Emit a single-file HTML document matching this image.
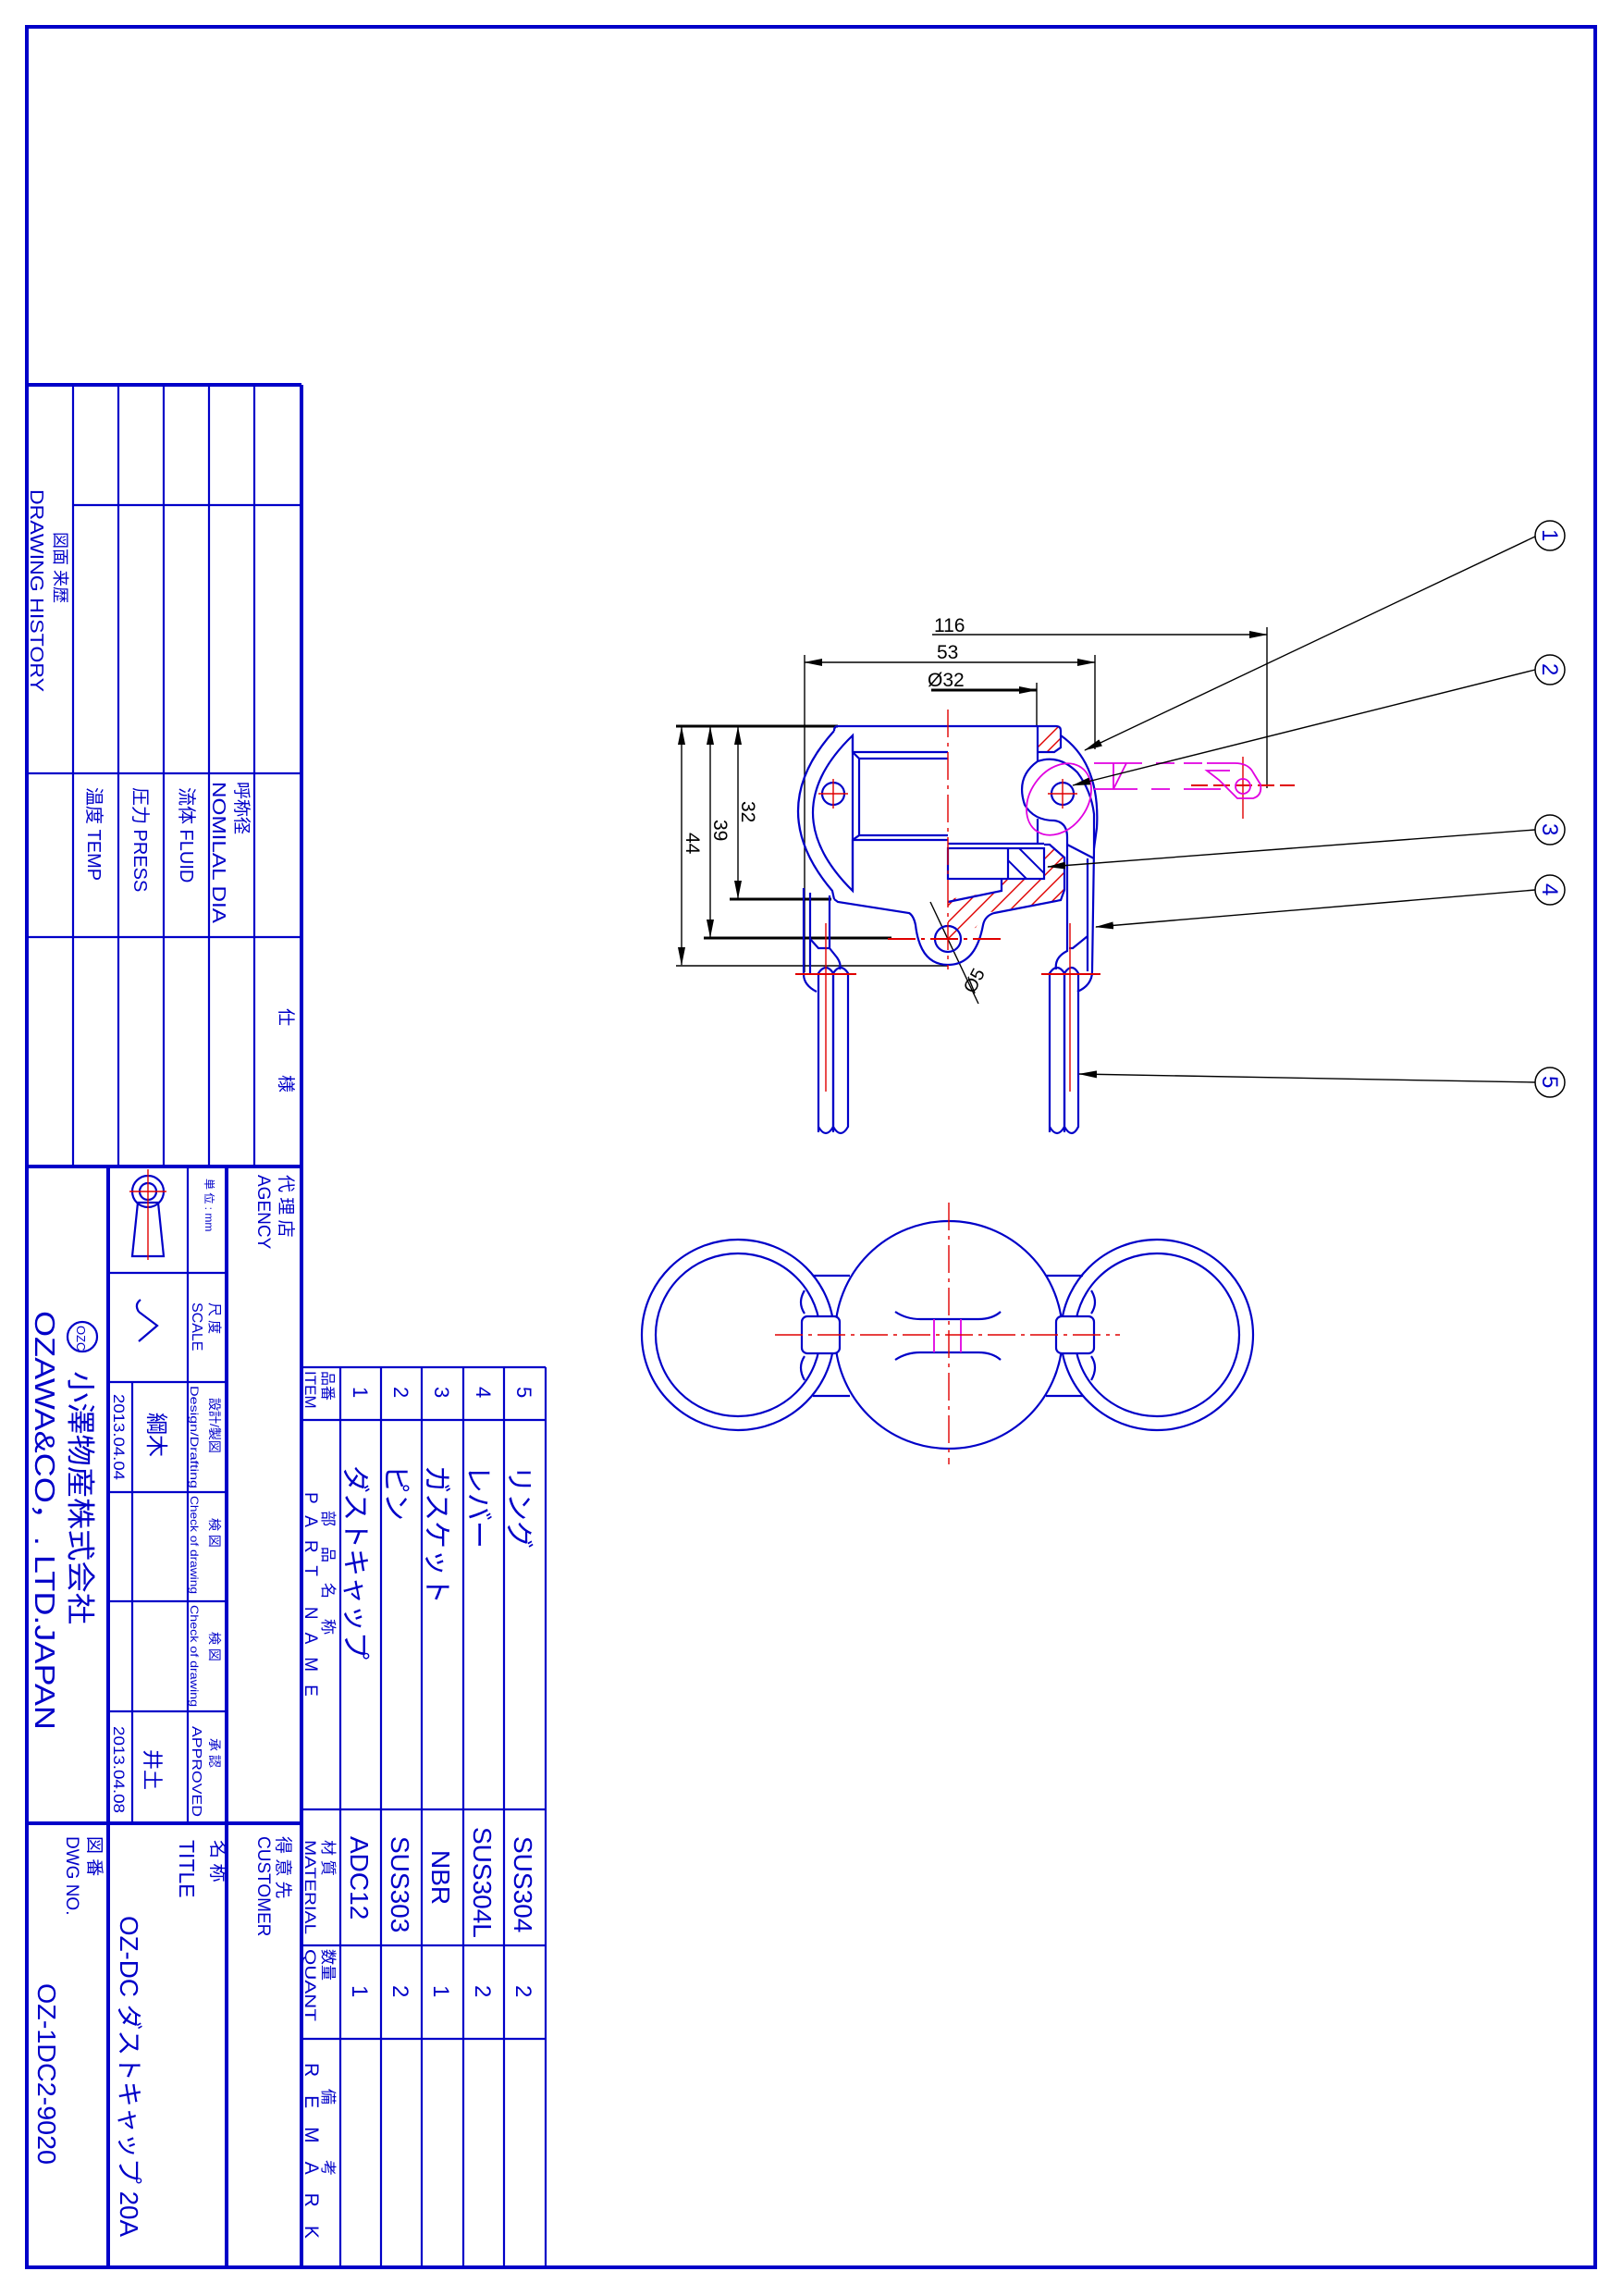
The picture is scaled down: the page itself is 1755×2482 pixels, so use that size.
<!DOCTYPE html>
<html><head><meta charset="utf-8"><style>
html,body{margin:0;padding:0;background:#fff}
svg{display:block}
text{font-family:"Liberation Sans","Noto Sans CJK JP",sans-serif;fill:#0000c8}
.b{stroke:#0000c8;fill:none;stroke-width:2.2}
.bt{stroke:#0000c8;fill:none;stroke-width:4}
.k{stroke:#000;fill:none;stroke-width:1.4}
.kt{stroke:#000;fill:none;stroke-width:3}
.r{stroke:#e00000;fill:none;stroke-width:1.4}
.rd{stroke:#e00000;fill:none;stroke-width:2.2;stroke-dasharray:22 6 4 6}
.m{stroke:#e000e0;fill:none;stroke-width:1.8}
.kx text,.dim{fill:#000}
</style></head><body>
<svg width="1755" height="2482" viewBox="0 0 1755 2482" xmlns="http://www.w3.org/2000/svg">
<defs>
<marker id="ar" markerWidth="20" markerHeight="8" refX="19" refY="4" orient="auto" markerUnits="userSpaceOnUse"><path d="M0,0 L20,4 L0,8 z" fill="#000"/></marker>
<marker id="al" markerWidth="20" markerHeight="8" refX="1" refY="4" orient="auto" markerUnits="userSpaceOnUse"><path d="M20,0 L0,4 L20,8 z" fill="#000"/></marker>
<clipPath id="hc"><path d="M1025,972 L1083,963 L1083,950 L1129,950 L1129,917 L1135,913 L1151,927 L1151,962 L1147,973 L1065,987 L1055,1003 L1040,1005 L1025,1025 Z"/></clipPath>
<clipPath id="hc2"><rect x="1122" y="786" width="25" height="27"/></clipPath>
<clipPath id="gc"><rect x="1090" y="917" width="39" height="33"/></clipPath>
</defs>

<!-- outer border -->
<rect x="29" y="29" width="1696" height="2422" class="bt"/>

<!-- ============ TITLE BLOCK UPPER ============ -->
<g class="b">
<line x1="29" y1="416" x2="326" y2="416" class="bt"/>
<line x1="326" y1="416" x2="326" y2="1478" class="bt"/>
<line x1="79" y1="416" x2="79" y2="1262"/>
<line x1="128" y1="416" x2="128" y2="1262"/>
<line x1="177" y1="416" x2="177" y2="1262"/>
<line x1="226" y1="416" x2="226" y2="1262"/>
<line x1="275" y1="416" x2="275" y2="1262"/>
<line x1="79" y1="546" x2="326" y2="546"/>
<line x1="29" y1="836" x2="326" y2="836"/>
<line x1="29" y1="1013" x2="326" y2="1013"/>
<line x1="29" y1="1261" x2="326" y2="1261" class="bt"/>
<!-- lower -->
<line x1="117" y1="1261" x2="117" y2="2451" class="bt"/>
<line x1="245" y1="1261" x2="245" y2="2451" class="bt"/>
<line x1="203" y1="1261" x2="203" y2="1971"/>
<line x1="143" y1="1494" x2="143" y2="1971"/>
<line x1="117" y1="1376" x2="245" y2="1376"/>
<line x1="117" y1="1494" x2="245" y2="1494"/>
<line x1="117" y1="1613" x2="245" y2="1613"/>
<line x1="117" y1="1731" x2="245" y2="1731"/>
<line x1="117" y1="1850" x2="245" y2="1850"/>
<line x1="29" y1="1971" x2="326" y2="1971" class="bt"/>
<line x1="326" y1="1478" x2="326" y2="2451" class="bt"/>
<!-- parts table -->
<line x1="326" y1="1478" x2="590" y2="1478"/>
<line x1="590" y1="1478" x2="590" y2="2451"/>
<line x1="368" y1="1478" x2="368" y2="2451"/>
<line x1="412" y1="1478" x2="412" y2="2451"/>
<line x1="456" y1="1478" x2="456" y2="2451"/>
<line x1="501" y1="1478" x2="501" y2="2451"/>
<line x1="545" y1="1478" x2="545" y2="2451"/>
<line x1="326" y1="1535" x2="590" y2="1535"/>
<line x1="326" y1="1956" x2="590" y2="1956"/>
<line x1="326" y1="2103" x2="590" y2="2103"/>
<line x1="326" y1="2204" x2="590" y2="2204"/>
</g>

<!-- symbols -->
<circle cx="160" cy="1288" r="17" class="b"/>
<circle cx="160" cy="1288" r="9" class="b"/>
<path d="M143,1358 L177,1358 L171,1300 L149,1300 Z" class="b"/>
<line x1="160" y1="1264" x2="160" y2="1362" class="r"/>
<line x1="140" y1="1288" x2="180" y2="1288" class="r"/>
<path d="M150,1418 L170,1433 L150,1450" class="b" stroke-width="2"/>
<path d="M150,1418 Q145,1410 152,1405" class="b" stroke-width="0"/>
<!-- logo -->
<circle cx="89" cy="1445" r="16" class="b" stroke-width="4"/>
<text font-size="13" transform="translate(83,1433) rotate(90)">OZC</text>

<!-- upper title texts -->
<g>
<text font-size="20" transform="translate(33,529) rotate(90)" textLength="219" lengthAdjust="spacingAndGlyphs">DRAWING HISTORY</text>
<text font-size="18" transform="translate(59,575) rotate(90)">図面 来歴</text>
<text font-size="20" transform="translate(95,851) rotate(90)">温度 TEMP</text>
<text font-size="20" transform="translate(145,851) rotate(90)">圧力 PRESS</text>
<text font-size="20" transform="translate(195,851) rotate(90)">流体 FLUID</text>
<text font-size="20" transform="translate(230,845) rotate(90)" textLength="153" lengthAdjust="spacingAndGlyphs">NOMILAL DIA</text>
<text font-size="19" transform="translate(255,845) rotate(90)">呼称径</text>
<text font-size="19" transform="translate(303,1090) rotate(90)">仕</text>
<text font-size="19" transform="translate(303,1162) rotate(90)">様</text>

<text font-size="19" transform="translate(303,1270) rotate(90)">代 理 店</text>
<text font-size="19" transform="translate(279,1270) rotate(90)">AGENCY</text>
<text font-size="12" transform="translate(222,1274) rotate(90)">単 位 : mm</text>
<text font-size="15" transform="translate(227,1408) rotate(90)">尺 度</text>
<text font-size="16" transform="translate(208,1408) rotate(90)">SCALE</text>
<text font-size="14" transform="translate(227,1511) rotate(90)">設計/製図</text>
<text font-size="12" transform="translate(206,1498) rotate(90)" textLength="111" lengthAdjust="spacingAndGlyphs">Design/Drafting</text>
<text font-size="14" transform="translate(227,1641) rotate(90)">検 図</text>
<text font-size="12" transform="translate(206,1617) rotate(90)" textLength="106" lengthAdjust="spacingAndGlyphs">Check of drawing</text>
<text font-size="14" transform="translate(227,1764) rotate(90)">検 図</text>
<text font-size="12" transform="translate(206,1735) rotate(90)" textLength="110" lengthAdjust="spacingAndGlyphs">Check of drawing</text>
<text font-size="14" transform="translate(227,1879) rotate(90)">承 認</text>
<text font-size="15" transform="translate(208,1866) rotate(90)" textLength="98" lengthAdjust="spacingAndGlyphs">APPROVED</text>
<text font-size="24" transform="translate(161,1527) rotate(90)">綱木</text>
<text font-size="22" transform="translate(157,1891) rotate(90)">井土</text>
<text font-size="17" transform="translate(123,1507) rotate(90)" textLength="93" lengthAdjust="spacingAndGlyphs">2013.04.04</text>
<text font-size="17" transform="translate(123,1866) rotate(90)" textLength="94" lengthAdjust="spacingAndGlyphs">2013.04.08</text>
<text font-size="31" transform="translate(76,1482) rotate(90)" textLength="274" lengthAdjust="spacingAndGlyphs">小澤物産株式会社</text>
<text font-size="31" transform="translate(38,1417) rotate(90)" textLength="453" lengthAdjust="spacingAndGlyphs">OZAWA&amp;CO，. LTD.JAPAN</text>
<text font-size="19" transform="translate(96,1985) rotate(90)">図 番</text>
<text font-size="19" transform="translate(72,1985) rotate(90)">DWG NO.</text>
<text font-size="28" transform="translate(41,2144) rotate(90)" textLength="196" lengthAdjust="spacingAndGlyphs">OZ-1DC2-9020</text>
<text font-size="20" transform="translate(229,1989) rotate(90)">名 称</text>
<text font-size="23" transform="translate(194,1989) rotate(90)">TITLE</text>
<text font-size="28" transform="translate(130,2071) rotate(90)" textLength="347" lengthAdjust="spacingAndGlyphs">OZ-DC ダストキャップ 20A</text>
<text font-size="19" transform="translate(300,1985) rotate(90)">得 意 先</text>
<text font-size="19" transform="translate(279,1985) rotate(90)">CUSTOMER</text>

<!-- parts table text -->
<text font-size="16" transform="translate(349,1482) rotate(90)">品番</text>
<text font-size="17" transform="translate(330,1482) rotate(90)">ITEM</text>
<text font-size="17" transform="translate(349,1633) rotate(90)" letter-spacing="22">部品名称</text>
<text font-size="19" transform="translate(330,1613) rotate(90)" letter-spacing="14">PART NAME</text>
<text font-size="17" transform="translate(349,1989) rotate(90)">材 質</text>
<text font-size="17" transform="translate(330,1989) rotate(90)" textLength="102" lengthAdjust="spacingAndGlyphs">MATERIAL</text>
<text font-size="17" transform="translate(349,2107) rotate(90)">数量</text>
<text font-size="17" transform="translate(330,2107) rotate(90)" textLength="78" lengthAdjust="spacingAndGlyphs">QUANT</text>
<text font-size="17" transform="translate(349,2258) rotate(90)" letter-spacing="60">備考</text>
<text font-size="21" transform="translate(330,2230) rotate(90)" letter-spacing="20">REMARK</text>

<g font-size="22">
<text transform="translate(382,1499) rotate(90)">1</text>
<text transform="translate(426,1499) rotate(90)">2</text>
<text transform="translate(470,1499) rotate(90)">3</text>
<text transform="translate(515,1499) rotate(90)">4</text>
<text transform="translate(559,1499) rotate(90)">5</text>
</g>
<g font-size="30">
<text transform="translate(374,1584) rotate(90)">ダストキャップ</text>
<text transform="translate(418,1584) rotate(90)">ピン</text>
<text transform="translate(462,1584) rotate(90)">ガスケット</text>
<text transform="translate(507,1584) rotate(90)">レバー</text>
<text transform="translate(551,1584) rotate(90)">リング</text>
</g>
<g font-size="28">
<text transform="translate(379,1985) rotate(90)">ADC12</text>
<text transform="translate(423,1985) rotate(90)">SUS303</text>
<text transform="translate(467,2000) rotate(90)">NBR</text>
<text transform="translate(512,1975) rotate(90)">SUS304L</text>
<text transform="translate(556,1985) rotate(90)">SUS304</text>
</g>
<g font-size="24">
<text transform="translate(381,2146) rotate(90)">1</text>
<text transform="translate(425,2146) rotate(90)">2</text>
<text transform="translate(469,2146) rotate(90)">1</text>
<text transform="translate(514,2146) rotate(90)">2</text>
<text transform="translate(558,2146) rotate(90)">2</text>
</g>
</g>

<!-- ============ MAIN VIEW ============ -->
<!-- dimensions -->
<g>
<line x1="1008" y1="686" x2="1370" y2="686" class="k" marker-end="url(#ar)"/>
<line x1="1370" y1="678" x2="1370" y2="852" class="k"/>
<line x1="870" y1="716" x2="1184" y2="716" class="k" marker-start="url(#al)" marker-end="url(#ar)"/>
<line x1="870" y1="708" x2="870" y2="1051" class="k"/>
<line x1="1184" y1="708" x2="1184" y2="810" class="k"/>
<line x1="1007" y1="746" x2="1121" y2="746" class="kt" stroke-width="2.2" marker-end="url(#ar)"/>
<line x1="1121" y1="738" x2="1121" y2="786" class="k"/>
<text class="dim" font-size="21" x="1010" y="683">116</text>
<text class="dim" font-size="21" x="1013" y="712">53</text>
<text class="dim" font-size="21" x="1003" y="742">Ø32</text>

<line x1="731" y1="785" x2="906" y2="785" class="kt"/>
<line x1="789" y1="972" x2="899" y2="972" class="kt" stroke-width="2.2"/>
<line x1="761" y1="1014" x2="964" y2="1014" class="kt"/>
<line x1="731" y1="1044" x2="1025" y2="1044" class="k"/>
<line x1="737" y1="786" x2="737" y2="1043" class="k" marker-start="url(#al)" marker-end="url(#ar)"/>
<line x1="768" y1="786" x2="768" y2="1013" class="k" marker-start="url(#al)" marker-end="url(#ar)"/>
<line x1="798" y1="786" x2="798" y2="971" class="k" marker-start="url(#al)" marker-end="url(#ar)"/>
<text class="dim" font-size="21" transform="translate(742,900) rotate(90)">44</text>
<text class="dim" font-size="21" transform="translate(772,886) rotate(90)">39</text>
<text class="dim" font-size="21" transform="translate(802,866) rotate(90)">32</text>
<!-- phi5 -->
<line x1="1006" y1="975" x2="1058" y2="1085" class="k"/>
<text class="dim" font-size="20" transform="translate(1053,1075) rotate(-62)">Ø5</text>
</g>

<!-- hatching -->
<g class="r" stroke-width="1.6" clip-path="url(#hc)">
<line x1="1000" y1="1040" x2="1160" y2="880"/>
<line x1="1018" y1="1040" x2="1178" y2="880"/>
<line x1="1036" y1="1040" x2="1196" y2="880"/>
<line x1="1054" y1="1040" x2="1214" y2="880"/>
<line x1="1072" y1="1040" x2="1232" y2="880"/>
<line x1="982" y1="1040" x2="1142" y2="880"/>
<line x1="964" y1="1040" x2="1124" y2="880"/>
<line x1="946" y1="1040" x2="1106" y2="880"/>
<line x1="1090" y1="1040" x2="1250" y2="880"/>
</g>
<g class="r" stroke-width="1.6" clip-path="url(#hc2)">
<line x1="1110" y1="820" x2="1150" y2="780"/>
<line x1="1125" y1="820" x2="1165" y2="780"/>
</g>
<g stroke="#0000c8" stroke-width="2" clip-path="url(#gc)">
<line x1="1085" y1="925" x2="1115" y2="955"/>
<line x1="1100" y1="915" x2="1135" y2="950"/>
</g>

<!-- body -->
<g class="b">
<path d="M906,785 L1142,785 Q1147,785 1147,790 L1147,808 L1140,813 L1122,813"/>
<path d="M906,785 Q902,785 902,790"/>
<path d="M902,790 Q825,875 900,963 L902,972"/>
<path d="M922,795 Q836,878 922,963 Z"/>
<path d="M922,795 L922,813 L929,820 L929,903 L922,908 L922,963"/>
<line x1="922" y1="813" x2="1025" y2="813"/>
<line x1="929" y1="820" x2="1025" y2="820"/>
<line x1="929" y1="903" x2="1025" y2="903"/>
<line x1="922" y1="908" x2="1025" y2="908"/>
<line x1="1122" y1="785" x2="1122" y2="823"/>
<line x1="1122" y1="885" x2="1122" y2="912"/>
<line x1="1025" y1="912" x2="1129" y2="912"/>
<rect x="1025" y="917" width="104" height="33"/>
<line x1="1090" y1="917" x2="1090" y2="950"/>
<path d="M1025,975 L1083,963 L1083,950"/>
<path d="M1129,913 L1135,913 L1151,927 L1151,962 L1147,973 L1075,987 Q1065,990 1063,1000 Q1055,1043 1025,1043 Q995,1043 990,1000 Q988,990 983,987 L906,975 L902,972"/>
<circle cx="1025" cy="1015" r="14"/>
<circle cx="901" cy="858" r="12"/>
<circle cx="1149" cy="858" r="12"/>
<!-- lever cam -->
<path d="M1122,823 Q1145,815 1165,835 Q1180,855 1183,880 L1183,917 L1181,1050"/>
<path d="M1122,823 Q1098,840 1108,870 Q1118,887 1140,887 Q1154,889 1154,905 L1154,1017"/>
<path d="M1147,795 Q1190,825 1186,895 L1183,917"/>
<line x1="1154" y1="913" x2="1183" y2="928"/>
<line x1="1176" y1="928" x2="1176" y2="1050"/>
<path d="M1176,1012 L1160,1025 L1156,1025"/>
<path d="M1181,1050 Q1181,1065 1165,1072"/>
<path d="M1154,1017 L1154,1028 Q1140,1035 1142,1048"/>
<!-- left lever -->
<line x1="869" y1="960" x2="869" y2="1053"/>
<line x1="876" y1="965" x2="876" y2="1053"/>
<line x1="897" y1="968" x2="897" y2="1025"/>
<path d="M876,1015 L885,1025 L897,1025"/>
<path d="M869,1053 Q869,1065 883,1072"/>
<path d="M897,1025 L905,1035 Q910,1042 908,1048"/>
<!-- rings -->
<path d="M885,1224 L885,1052 Q893,1040 901,1052 L901,1218 Q893,1232 885,1218"/>
<path d="M901,1224 L901,1052 Q909,1040 917,1052 L917,1218 Q909,1232 901,1218"/>
<path d="M1135,1224 L1135,1052 Q1143,1040 1151,1052 L1151,1218 Q1143,1232 1135,1218"/>
<path d="M1151,1224 L1151,1052 Q1159,1040 1166,1052 L1166,1218 Q1159,1232 1151,1218"/>
</g>
<!-- red centre lines -->
<g class="r">
<line x1="1025" y1="767" x2="1025" y2="1048" stroke-dasharray="30 6 4 6"/>
<line x1="885" y1="858" x2="917" y2="858"/><line x1="901" y1="842" x2="901" y2="874"/>
<line x1="1133" y1="858" x2="1165" y2="858"/><line x1="1149" y1="842" x2="1149" y2="874"/>
<line x1="960" y1="1015" x2="1088" y2="1015" stroke-dasharray="30 6 4 6" stroke-width="2"/>
<line x1="860" y1="1053" x2="926" y2="1053" stroke-width="2"/>
<line x1="1126" y1="1053" x2="1190" y2="1053" stroke-width="2"/>
<line x1="893" y1="998" x2="893" y2="1180"/>
<line x1="1157" y1="998" x2="1157" y2="1180"/>
<line x1="1288" y1="849" x2="1400" y2="849" stroke-width="2" stroke-dasharray="18 6"/>
<line x1="1344" y1="818" x2="1344" y2="885"/>
</g>
<!-- magenta lever -->
<g class="m">
<ellipse cx="1145" cy="864" rx="31" ry="42" transform="rotate(35 1145 864)"/>
<path d="M1183,825 L1235,825 M1250,825 L1270,825 M1280,825 L1300,825 M1305,825 L1335,825 Q1350,825 1355,835 L1363,848 Q1365,860 1355,863 L1338,863 L1318,843 L1305,833 L1330,833"/>
<path d="M1183,853 L1230,853 M1245,853 L1265,853 M1280,853 L1320,853"/>
<line x1="1204" y1="825" x2="1204" y2="853"/>
<line x1="1218" y1="825" x2="1204" y2="853"/>
<circle cx="1344" cy="850" r="8"/>
</g>

<!-- leaders & balloons -->
<g>
<line x1="1660" y1="580" x2="1173" y2="811" class="k" marker-end="url(#ar)"/>
<line x1="1660" y1="724" x2="1160" y2="849" class="k" marker-end="url(#ar)"/>
<line x1="1660" y1="897" x2="1133" y2="937" class="k" marker-end="url(#ar)"/>
<line x1="1660" y1="962" x2="1185" y2="1002" class="k" marker-end="url(#ar)"/>
<line x1="1660" y1="1170" x2="1167" y2="1161" class="k" marker-end="url(#ar)"/>
<g fill="#fff" stroke="#000" stroke-width="1.5">
<circle cx="1676" cy="579" r="16"/><circle cx="1676" cy="724" r="16"/><circle cx="1676" cy="897" r="16"/><circle cx="1676" cy="962" r="16"/><circle cx="1676" cy="1170" r="16"/>
</g>
<g class="dim" font-size="24">
<text transform="translate(1668,572) rotate(90)">1</text>
<text transform="translate(1668,717) rotate(90)">2</text>
<text transform="translate(1668,890) rotate(90)">3</text>
<text transform="translate(1668,955) rotate(90)">4</text>
<text transform="translate(1668,1163) rotate(90)">5</text>
</g>
</g>

<!-- ============ BOTTOM VIEW ============ -->
<g class="b">
<line x1="879" y1="1379" x2="919" y2="1379"/><line x1="879" y1="1509" x2="919" y2="1509"/>
<line x1="1131" y1="1379" x2="1171" y2="1379"/><line x1="1131" y1="1509" x2="1171" y2="1509"/>
<circle cx="1026" cy="1443" r="123" fill="#fff"/>
<ellipse cx="798" cy="1443" rx="104" ry="103"/>
<ellipse cx="798" cy="1443" rx="89" ry="88"/>
<ellipse cx="1251" cy="1443" rx="104" ry="103"/>
<ellipse cx="1251" cy="1443" rx="89" ry="88"/>
<rect x="867" y="1423" width="41" height="40" rx="6" fill="#fff"/>
<rect x="1142" y="1423" width="41" height="40" rx="6" fill="#fff"/>
<path d="M968,1418 Q980,1426 995,1426 L1058,1426 Q1073,1426 1082,1418"/>
<path d="M968,1470 Q980,1462 995,1462 L1058,1462 Q1073,1462 1082,1470"/>
<path d="M870,1395 Q862,1408 870,1420 M870,1466 Q862,1478 870,1492"/>
<path d="M1180,1395 Q1188,1408 1180,1420 M1180,1466 Q1188,1478 1180,1492"/>
</g>
<g class="m" stroke-width="1.2"><line x1="1010" y1="1426" x2="1010" y2="1462"/><line x1="1039" y1="1426" x2="1039" y2="1462"/></g>
<g class="r" stroke-width="1.3">
<line x1="838" y1="1443" x2="1211" y2="1443" stroke-dasharray="30 6 4 6"/>
<line x1="1026" y1="1300" x2="1026" y2="1583" stroke-dasharray="30 6 4 6"/>
</g>
</svg>
</body></html>
